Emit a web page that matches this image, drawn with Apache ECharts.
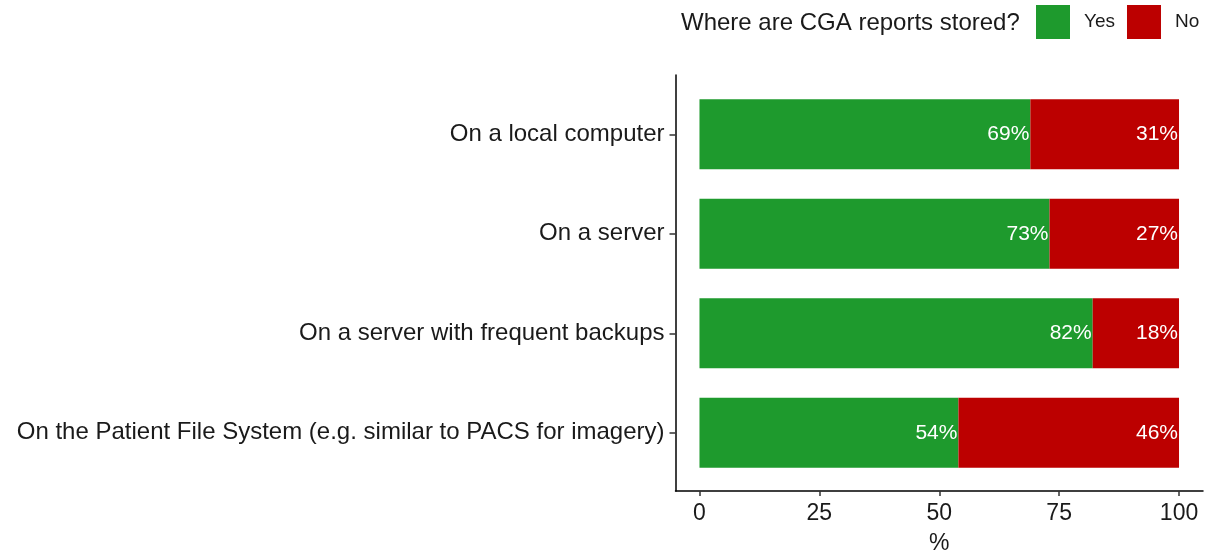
<!DOCTYPE html>
<html>
<head>
<meta charset="utf-8">
<script src="https://cdn.jsdelivr.net/npm/echarts@6/dist/echarts.min.js"></script>
<style>
  html, body { margin: 0; padding: 0; background: #fff; }
  #chart { width: 1212px; height: 552px; }
</style>
</head>
<body>
<div id="chart"></div>
<script>
// data
var categories = [
  'On a local computer',
  'On a server',
  'On a server with frequent backups',
  'On the Patient File System (e.g. similar to PACS for imagery)'
]
var yesValues = [69, 73, 82, 54]
var noValues = [31, 27, 18, 46]
var xTicks = [0, 25, 50, 75, 100]

var font = 'Liberation Sans, Arial, sans-serif'

var chart = echarts.init(document.getElementById('chart'))

var barLabel = {
  show: true,
  position: 'insideRight',
  distance: 1,
  color: '#fff',
  fontSize: 21,
  fontFamily: font,
  formatter: '{c}%'
}

chart.setOption({
  animation: false,
  title: {
    text: 'Where are CGA reports stored?',
    left: 676,
    top: 6,
    textStyle: { fontSize: 24, fontWeight: 'normal', color: '#1a1a1a', fontFamily: font }
  },
  legend: {
    data: ['Yes', 'No'],
    left: 1036,
    top: 5,
    padding: 0,
    icon: 'rect',
    itemWidth: 34,
    itemHeight: 34,
    itemGap: 12,
    textStyle: { fontSize: 19, color: '#1a1a1a', fontFamily: font, padding: [0, 0, 0, 9] }
  },
  grid: [
    { left: 675.5, right: 9, top: 84.5, bottom: 69.5, outerBoundsMode: 'none' },
    { left: 675.5, right: 9, top: 75, bottom: 61, outerBoundsMode: 'none' }
  ],
  xAxis: [
    { gridIndex: 0, type: 'value', min: -5, max: 105, show: false },
    {
      gridIndex: 1, type: 'value', min: -5, max: 105,
      name: '%', nameLocation: 'middle', nameGap: 41,
      nameTextStyle: { fontSize: 23, color: '#1a1a1a', fontFamily: font },
      axisLine: { show: true, onZero: false, lineStyle: { color: '#000', width: 1.5 } },
      axisTick: { show: true, length: 5, customValues: xTicks, lineStyle: { color: '#333', width: 1.5 } },
      axisLabel: { customValues: xTicks, fontSize: 23, color: '#1a1a1a', fontFamily: font, margin: 11 },
      splitLine: { show: false }
    }
  ],
  yAxis: [
    {
      gridIndex: 0, type: 'category', data: categories, inverse: true,
      axisLine: { show: false, onZero: false },
      axisTick: { show: true, length: 6, alignWithLabel: true, lineStyle: { color: '#333', width: 1.5 } },
      axisLabel: { fontSize: 24, color: '#1a1a1a', fontFamily: font, margin: 11 }
    },
    {
      gridIndex: 1, type: 'value', min: 0, max: 1,
      axisLine: { show: true, onZero: false, lineStyle: { color: '#000', width: 1.5 } },
      axisTick: { show: false }, axisLabel: { show: false }, splitLine: { show: false }
    }
  ],
  series: [
    {
      name: 'Yes', type: 'bar', stack: 'total', xAxisIndex: 0, yAxisIndex: 0,
      data: yesValues, barWidth: 70,
      itemStyle: { color: '#1E9A2D' },
      label: barLabel
    },
    {
      name: 'No', type: 'bar', stack: 'total', xAxisIndex: 0, yAxisIndex: 0,
      data: noValues, barWidth: 70,
      itemStyle: { color: '#BC0000' },
      label: barLabel
    }
  ]
})
</script>
</body>
</html>
